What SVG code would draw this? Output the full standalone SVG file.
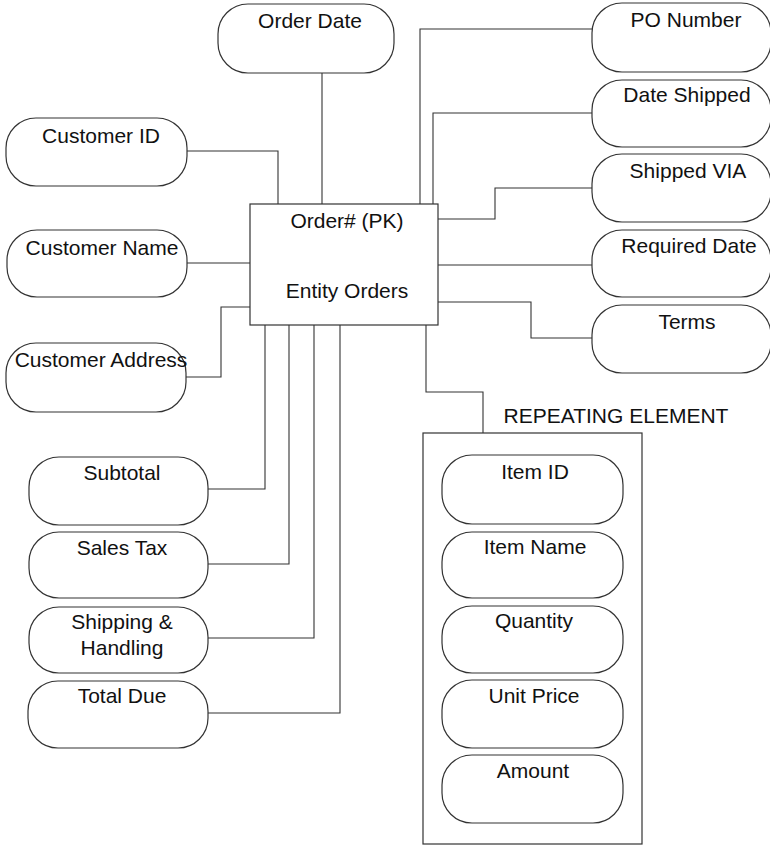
<svg xmlns="http://www.w3.org/2000/svg" width="770" height="846" viewBox="0 0 770 846">
<style>
.pill{fill:#fff;stroke:#333;stroke-width:1.2}
.box{fill:#fff;stroke:#333;stroke-width:1.2}
.con{fill:none;stroke:#333;stroke-width:1.1}
text{font-family:"Liberation Sans",Arial,sans-serif;font-size:21px;fill:#111;text-anchor:middle}
</style>
<rect width="770" height="846" fill="#fff"/>
<g id="connectors">
<path class="con" d="M322,73 V204"/>
<path class="con" d="M187,151 H278 V204"/>
<path class="con" d="M187,263 H250"/>
<path class="con" d="M186,377 H221 V307 H250"/>
<path class="con" d="M208,489 H265 V325"/>
<path class="con" d="M208,564 H289 V325"/>
<path class="con" d="M208,638 H314 V325"/>
<path class="con" d="M208,713 H340 V325"/>
<path class="con" d="M592,29 H420 V204"/>
<path class="con" d="M592,113 H433 V204"/>
<path class="con" d="M592,188 H495 V219 H438"/>
<path class="con" d="M438,265 H592"/>
<path class="con" d="M438,302 H531 V338 H592"/>
<path class="con" d="M426,325 V392 H483 V433"/>
</g>
<g id="entity-orders">
<rect class="box" x="250" y="204" width="188" height="121"/>
<text x="347" y="228">Order# (PK)</text>
<text x="347" y="298">Entity Orders</text>
</g>
<g id="order-date"><rect class="pill" x="218" y="4" width="176" height="69" rx="30" ry="30"/><text x="310" y="28">Order Date</text></g>
<g id="customer-id"><rect class="pill" x="6" y="118" width="181" height="68" rx="30" ry="30"/><text x="101" y="143">Customer ID</text></g>
<g id="customer-name"><rect class="pill" x="7" y="230" width="180" height="67" rx="30" ry="30"/><text x="102" y="255">Customer Name</text></g>
<g id="customer-address"><rect class="pill" x="6" y="343" width="180" height="69" rx="30" ry="30"/><text x="101" y="367">Customer Address</text></g>
<g id="subtotal"><rect class="pill" x="29" y="457" width="179" height="68" rx="30" ry="30"/><text x="122" y="480">Subtotal</text></g>
<g id="sales-tax"><rect class="pill" x="29" y="532" width="179" height="66" rx="30" ry="30"/><text x="122" y="555">Sales Tax</text></g>
<g id="shipping-handling"><rect class="pill" x="29" y="607" width="179" height="66" rx="30" ry="30"/><text x="122" y="629">Shipping &amp;</text><text x="122" y="655">Handling</text></g>
<g id="total-due"><rect class="pill" x="28" y="681" width="180" height="67" rx="30" ry="30"/><text x="122" y="703">Total Due</text></g>
<g id="po-number"><rect class="pill" x="592" y="3" width="179" height="69" rx="30" ry="30"/><text x="686" y="27">PO Number</text></g>
<g id="date-shipped"><rect class="pill" x="592" y="80" width="179" height="67" rx="30" ry="30"/><text x="687" y="102">Date Shipped</text></g>
<g id="shipped-via"><rect class="pill" x="592" y="154" width="179" height="68" rx="30" ry="30"/><text x="688" y="178">Shipped VIA</text></g>
<g id="required-date"><rect class="pill" x="592" y="230" width="179" height="67" rx="30" ry="30"/><text x="689" y="253">Required Date</text></g>
<g id="terms"><rect class="pill" x="592" y="305" width="179" height="68" rx="30" ry="30"/><text x="687" y="329">Terms</text></g>
<g id="repeating-element">
<text x="616" y="423">REPEATING ELEMENT</text>
<rect class="box" x="423" y="433" width="219" height="411"/>
</g>
<g id="item-id"><rect class="pill" x="442" y="455" width="181" height="69" rx="30" ry="30"/><text x="535" y="479">Item ID</text></g>
<g id="item-name"><rect class="pill" x="442" y="532" width="181" height="66" rx="30" ry="30"/><text x="535" y="554">Item Name</text></g>
<g id="quantity"><rect class="pill" x="442" y="606" width="181" height="67" rx="30" ry="30"/><text x="534" y="628">Quantity</text></g>
<g id="unit-price"><rect class="pill" x="442" y="680" width="181" height="68" rx="30" ry="30"/><text x="534" y="703">Unit Price</text></g>
<g id="amount"><rect class="pill" x="442" y="755" width="181" height="68" rx="30" ry="30"/><text x="533" y="778">Amount</text></g>
</svg>
